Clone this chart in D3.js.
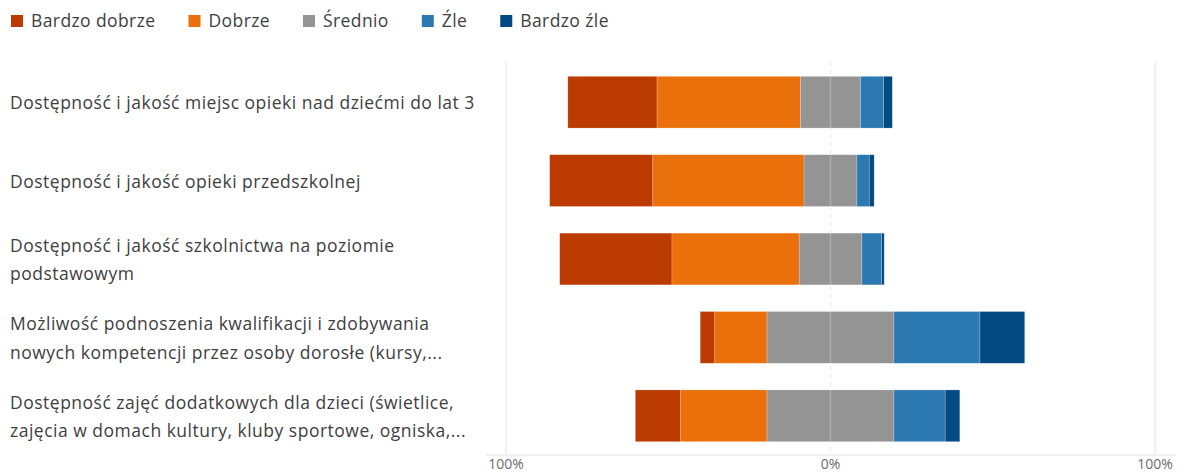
<!DOCTYPE html>
<html>
<head>
<meta charset="utf-8">
<script src="https://cdn.jsdelivr.net/npm/d3@7"></script>
<style>
  body { margin: 0; background: #fff; }
  svg text { font-family: "Open Sans", "Noto Sans", sans-serif; }
</style>
</head>
<body>
<svg id="chart" width="1184" height="476"></svg>
<script>
 // categories (already wrapped the way the chart shows them)
 let categories = [
     ["Dostępność i jakość miejsc opieki nad dziećmi do lat 3"],
     ["Dostępność i jakość opieki przedszkolnej"],
     ["Dostępność i jakość szkolnictwa na poziomie", "podstawowym"],
     ["Możliwość podnoszenia kwalifikacji i zdobywania", "nowych kompetencji przez osoby dorosłe (kursy,..."],
     ["Dostępność zajęć dodatkowych dla dzieci (świetlice,", "zajęcia w domach kultury, kluby sportowe, ogniska,..."]
 ]

 let seriesNames = ["Bardzo dobrze", "Dobrze", "Średnio", "Źle", "Bardzo źle"]
 let seriesColors = ["#bb3b02", "#e9700a", "#949494", "#2b79b0", "#034a83"]

 // percent per category, one array per answer
 let bardzoDobrze = [27.5, 31.8, 34.6, 4.5, 14.0]
 let dobrze       = [44.2, 46.6, 39.2, 16.1, 26.6]
 let srednio      = [18.5, 16.3, 19.3, 39.1, 39.1]
 let zle          = [7.1, 3.8, 6.1, 26.5, 15.8]
 let bardzoZle    = [2.7, 1.5, 0.8, 13.8, 4.5]

 let tickValues = [-100, 0, 100]
 let tickLabels = ["100%", "0%", "100%"]

 let svg = d3.select("svg#chart")

 const xScale = d3.scaleLinear().domain([-100, 100]).range([506, 1155])
 const yScale = d3.scaleBand().domain(d3.range(categories.length))
                  .range([63, 455]).paddingInner(0.34).paddingOuter(0.17)

 // build segments: the neutral answer is split around 0
 let rows = categories.map((c, i) => {
     let vals = [bardzoDobrze[i], dobrze[i], srednio[i], zle[i], bardzoZle[i]]
     let start = -(vals[0] + vals[1] + vals[2] / 2)
     let segs = []
     vals.forEach((v, k) => {
         segs.push({k: k, x0: start, x1: start + v})
         start += v
     })
     return {i: i, segs: segs}
 })

 let grid = svg.append("g").attr("id", "grid")

 grid.selectAll("line.v")
     .data(tickValues)
     .join("line")
     .attr("class", "v")
     .attr("x1", d => xScale(d)).attr("x2", d => xScale(d))
     .attr("y1", 62).attr("y2", 455)
     .attr("stroke", "#ececec")
     .attr("stroke-width", 1.5)
     .attr("stroke-dasharray", d => d === 0 ? "5,3" : null)

 grid.append("line")
     .attr("x1", 486).attr("x2", 1176)
     .attr("y1", 455).attr("y2", 455)
     .attr("stroke", "#eeeeee")
     .attr("stroke-width", 1.5)

 let bars = svg.append("g").attr("id", "bars")

 bars.selectAll("g.row")
     .data(rows)
     .join("g")
     .attr("class", "row")
     .selectAll("rect")
     .data(d => d.segs.map(s => Object.assign({i: d.i}, s)))
     .join("rect")
     .attr("x", d => xScale(d.x0))
     .attr("width", d => xScale(d.x1) - xScale(d.x0))
     .attr("y", d => yScale(d.i))
     .attr("height", yScale.bandwidth())
     .attr("fill", d => seriesColors[d.k])
     .attr("stroke", "rgba(255,255,255,0.35)")
     .attr("stroke-width", 0.6)

 // light zero line over the bars
 svg.append("line")
     .attr("x1", xScale(0)).attr("x2", xScale(0))
     .attr("y1", 62).attr("y2", 455)
     .attr("stroke", "rgba(255,255,255,0.22)")
     .attr("stroke-width", 1.5)

 // x tick labels
 svg.append("g").selectAll("text")
     .data(tickValues)
     .join("text")
     .attr("x", d => xScale(d))
     .attr("y", 469)
     .attr("text-anchor", "middle")
     .attr("fill", "#6b6b6b")
     .style("font-size", "14px")
     .text((d, i) => tickLabels[i])

 // category labels
 let labels = svg.append("g").attr("id", "labels")
 labels.selectAll("text")
     .data(categories)
     .join("text")
     .attr("fill", "#404040")
     .style("font-size", "17.5px")
     .style("letter-spacing", "0.5px")
     .each(function(lines, i) {
         let cy = yScale(i) + yScale.bandwidth() / 2
         let lh = 28.5
         d3.select(this).selectAll("tspan")
             .data(lines)
             .join("tspan")
             .attr("x", 10)
             .attr("y", (l, j) => cy + 1 + (j - (lines.length - 1) / 2) * lh)
             .attr("dy", "0.35em")
             .text(l => l)
     })

 // legend
 let legend = svg.append("g").attr("id", "legend")
 let lx = 11
 seriesNames.forEach((name, k) => {
     let item = legend.append("g").attr("transform", `translate(${lx},0)`)
     item.append("rect")
         .attr("x", 0).attr("y", 15)
         .attr("width", 12).attr("height", 12)
         .attr("fill", seriesColors[k])
     let t = item.append("text")
         .attr("x", 20).attr("y", 21)
         .attr("dy", "0.35em")
         .attr("fill", "#404040")
         .style("font-size", "17.5px")
         .style("letter-spacing", "0.4px")
         .text(name)
     lx += 20 + t.node().getComputedTextLength() + 33
 })
</script>
</body>
</html>
